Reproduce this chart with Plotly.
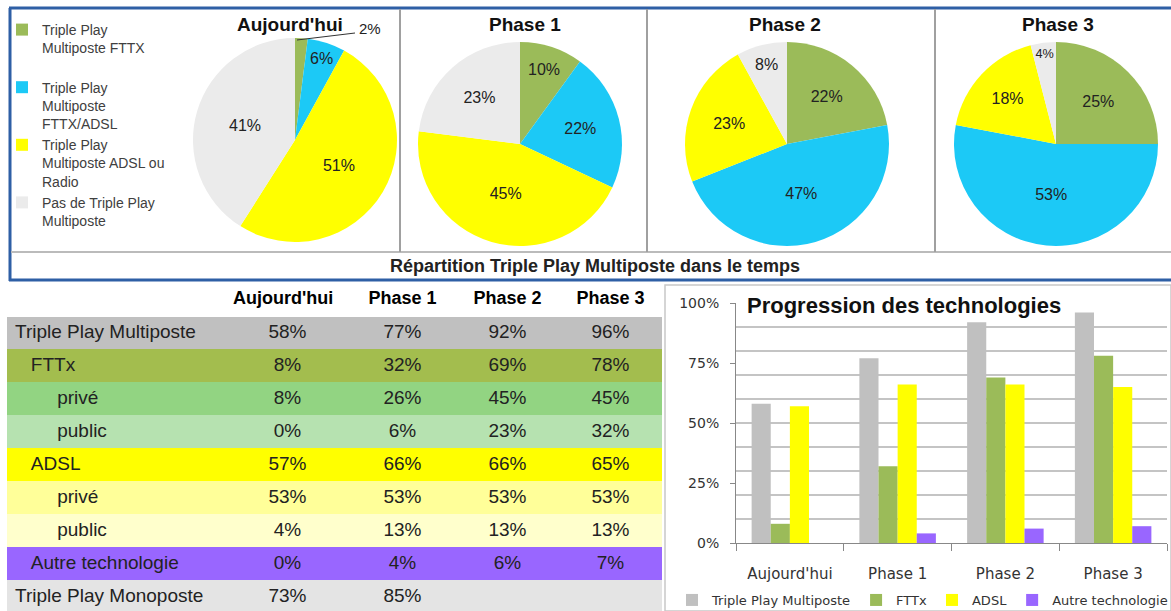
import plotly.graph_objects as go

W, H = 1171, 611

# ---------------- data ----------------
pie_labels = ["Triple Play<br>Multiposte FTTX<br> ",
              "Triple Play<br>Multiposte<br>FTTX/ADSL",
              "Triple Play<br>Multiposte ADSL ou<br>Radio",
              "Pas de Triple Play<br>Multiposte"]
pie_titles = ["Aujourd'hui", "Phase 1", "Phase 2", "Phase 3"]
pie_aujourdhui = [2, 6, 51, 41]
pie_phase1 = [10, 22, 45, 23]
pie_phase2 = [22, 47, 23, 8]
pie_phase3 = [25, 53, 18, 4]
pie_colors = ["#9BBB59", "#1CC9F6", "#FFFF00", "#EBEBEB"]

phases = ["Aujourd'hui", "Phase 1", "Phase 2", "Phase 3"]
row_labels = ["Triple Play Multiposte", "FTTx", "privé", "public", "ADSL",
              "privé", "public", "Autre technologie", "Triple Play Monoposte"]
row_indent = [0, 3, 8, 8, 3, 8, 8, 3, 0]
tp_multiposte = [58, 77, 92, 96]
fttx = [8, 32, 69, 78]
fttx_prive = [8, 26, 45, 45]
fttx_public = [0, 6, 23, 32]
adsl = [57, 66, 66, 65]
adsl_prive = [53, 53, 53, 53]
adsl_public = [4, 13, 13, 13]
autre = [0, 4, 6, 7]
tp_monoposte = [73, 85, None, None]
row_colors = ["#C0C0C0", "#A3BD4E", "#92D482", "#B6E2B0", "#FFFF00",
              "#FFFF99", "#FFFFCC", "#9966FF", "#E4E4E4"]

bar_series = ["Triple Play Multiposte", "FTTx", "ADSL", "Autre technologie"]
bar_values = [tp_multiposte, fttx, adsl, autre]
bar_colors = ["#C0C0C0", "#9BBB59", "#FFFF00", "#9966FF"]

FONT = "Liberation Sans"
WIDE = "DejaVu Sans"


def px(x):
    return x / W


def py(y):
    return 1 - y / H


fig = go.Figure()

# ---------------- pies ----------------
pie_vals = [pie_aujourdhui, pie_phase1, pie_phase2, pie_phase3]
pie_dom = [(193, 397, 38, 242), (418, 622, 42, 246), (685, 889, 42, 246), (954, 1158, 42, 246)]
title_x = [290, 525, 785, 1058]
for i, (vals, dom) in enumerate(zip(pie_vals, pie_dom)):
    tpos = ["inside"] * 4
    if i == 0:
        tpos[0] = "none"
    fig.add_trace(go.Pie(
        labels=pie_labels, values=vals, sort=False, direction="clockwise", rotation=0,
        marker=dict(colors=pie_colors, line=dict(width=0)),
        texttemplate="%{value}%", textposition=tpos, insidetextorientation="horizontal",
        textfont=dict(size=16, color="#222222", family=FONT),
        domain=dict(x=[px(dom[0]), px(dom[1])], y=[py(dom[3]), py(dom[2])]),
        showlegend=(i == 0), legend="legend", hoverinfo="label+percent",
    ))
    fig.add_annotation(x=px(title_x[i]), y=py(25), xref="paper", yref="paper",
                       xanchor="center", yanchor="middle", text="<b>%s</b>" % pie_titles[i],
                       showarrow=False, font=dict(size=19, color="#111111", family=FONT))

# small outside label for the tiny slice of "Aujourd'hui"
fig.add_annotation(x=px(357), y=py(28), xref="paper", yref="paper", xanchor="left", yanchor="middle",
                   text="%d%%" % pie_aujourdhui[0], showarrow=False,
                   font=dict(size=15, color="#222222", family=FONT))
fig.add_shape(type="line", xref="paper", yref="paper", x0=px(297), y0=py(40), x1=px(355), y1=py(33),
              line=dict(color="#333333", width=1))

fig.add_annotation(x=px(595), y=py(266), xref="paper", yref="paper", xanchor="center", yanchor="middle",
                   text="<b>Répartition Triple Play Multiposte dans le temps</b>", showarrow=False,
                   font=dict(size=18, color="#222222", family=FONT))

# ---------------- table ----------------
table_rows = [tp_multiposte, fttx, fttx_prive, fttx_public, adsl, adsl_prive, adsl_public,
              autre, tp_monoposte]
nb = "\u00a0"
col0 = [nb * ind + lab for lab, ind in zip(row_labels, row_indent)]
cols = [col0]
for j in range(4):
    cols.append(["" if r[j] is None else "%d%%" % r[j] for r in table_rows])
fills = [row_colors for _ in range(5)]
fig.add_trace(go.Table(
    domain=dict(x=[px(7), px(661)], y=[0, py(280)]),
    columnwidth=[218, 125, 105, 105, 101],
    header=dict(values=[""] + ["<b>%s</b>" % p for p in phases], height=27,
                fill=dict(color="white"), line=dict(color="white", width=1),
                align=["left", "left", "center", "center", "center"],
                font=dict(size=18, color="#000000", family=FONT)),
    cells=dict(values=cols, height=33, fill=dict(color=fills),
               line=dict(color=fills, width=1),
               align=["left", "center", "center", "center", "center"],
               font=dict(size=19, color="#222222", family=FONT)),
))

# ---------------- bars ----------------
for name, vals, col in zip(bar_series, bar_values, bar_colors):
    fig.add_trace(go.Bar(
        x=phases, y=[v / 100 for v in vals], name=name, marker=dict(color=col, line=dict(width=0)),
        xaxis="x", yaxis="y", legend="legend2",
    ))
# carrier trace for the 10% grid axis
fig.add_trace(go.Scatter(x=phases, y=[0] * len(phases), xaxis="x", yaxis="y3", mode="none",
                         showlegend=False, hoverinfo="skip"))

fig.update_layout(
    width=W, height=H, margin=dict(l=0, r=0, t=0, b=0, autoexpand=False),
    paper_bgcolor="white", plot_bgcolor="rgba(0,0,0,0)",
    font=dict(family=FONT, color="#333333"),
    barmode="group", bargap=0.29, bargroupgap=0,
    xaxis=dict(domain=[px(736), px(1167)], anchor="y", ticks="outside", tickson="boundaries",
               ticklen=7, tickcolor="#888888", showline=True, linecolor="#888888", linewidth=1,
               ticklabelstandoff=17, automargin=False,
               tickfont=dict(size=15, color="#333333", family=WIDE), showgrid=False),
    yaxis=dict(domain=[py(543), py(303)], anchor="x", range=[0, 1],
               tickvals=[0, 0.25, 0.5, 0.75, 1], tickformat=".0%", showgrid=False,
               ticks="outside", ticklen=5, tickcolor="#888888", showline=True,
               linecolor="#888888", linewidth=1, zeroline=False, ticklabelstandoff=8,
               automargin=False,
               tickfont=dict(size=14, color="#333333", family=WIDE)),
    yaxis3=dict(overlaying="y", anchor="x", range=[0, 1], dtick=0.1, showgrid=True,
                gridcolor="#C4C4C4", gridwidth=1.5, showticklabels=False, zeroline=False,
                ticks="", showline=False, automargin=False),
    legend=dict(x=px(2), y=py(14), xanchor="left", yanchor="top", valign="top",
                font=dict(size=14, color="#404040", family=FONT), bgcolor="rgba(0,0,0,0)",
                itemsizing="constant", tracegroupgap=0),
    legend2=dict(orientation="h", x=px(672), y=py(615), xanchor="left", yanchor="bottom",
                 font=dict(size=13, color="#333333", family=WIDE), bgcolor="rgba(0,0,0,0)"),
)

# frame decorations
blue = "#2E5FA5"
fig.add_shape(type="line", xref="paper", yref="paper", x0=px(9), x1=1, y0=py(8), y1=py(8),
              line=dict(color=blue, width=3))
fig.add_shape(type="line", xref="paper", yref="paper", x0=px(10), x1=px(10), y0=py(8), y1=py(281),
              line=dict(color=blue, width=3))
fig.add_shape(type="line", xref="paper", yref="paper", x0=px(9), x1=1, y0=py(280), y1=py(280),
              line=dict(color=blue, width=3))
fig.add_shape(type="line", xref="paper", yref="paper", x0=px(11), x1=1, y0=py(252), y1=py(252),
              line=dict(color="#BBBBBB", width=2))
for xs in (400, 647, 935):
    fig.add_shape(type="line", xref="paper", yref="paper", x0=px(xs), x1=px(xs), y0=py(9), y1=py(252),
                  line=dict(color="#A0A0A0", width=2))
fig.add_shape(type="rect", xref="paper", yref="paper", x0=px(665), x1=1.0, y0=0, y1=py(285),
              line=dict(color="#C8C8C8", width=1.5))

fig.add_annotation(x=px(745), y=py(305), xref="paper", yref="paper", xanchor="left", yanchor="middle",
                   text="<b>Progression des technologies</b>", showarrow=False,
                   font=dict(size=22, color="#111111", family=FONT))

fig.write_html("out.html", config={"displayModeBar": False},
               post_script="document.body.style.margin='0';")
